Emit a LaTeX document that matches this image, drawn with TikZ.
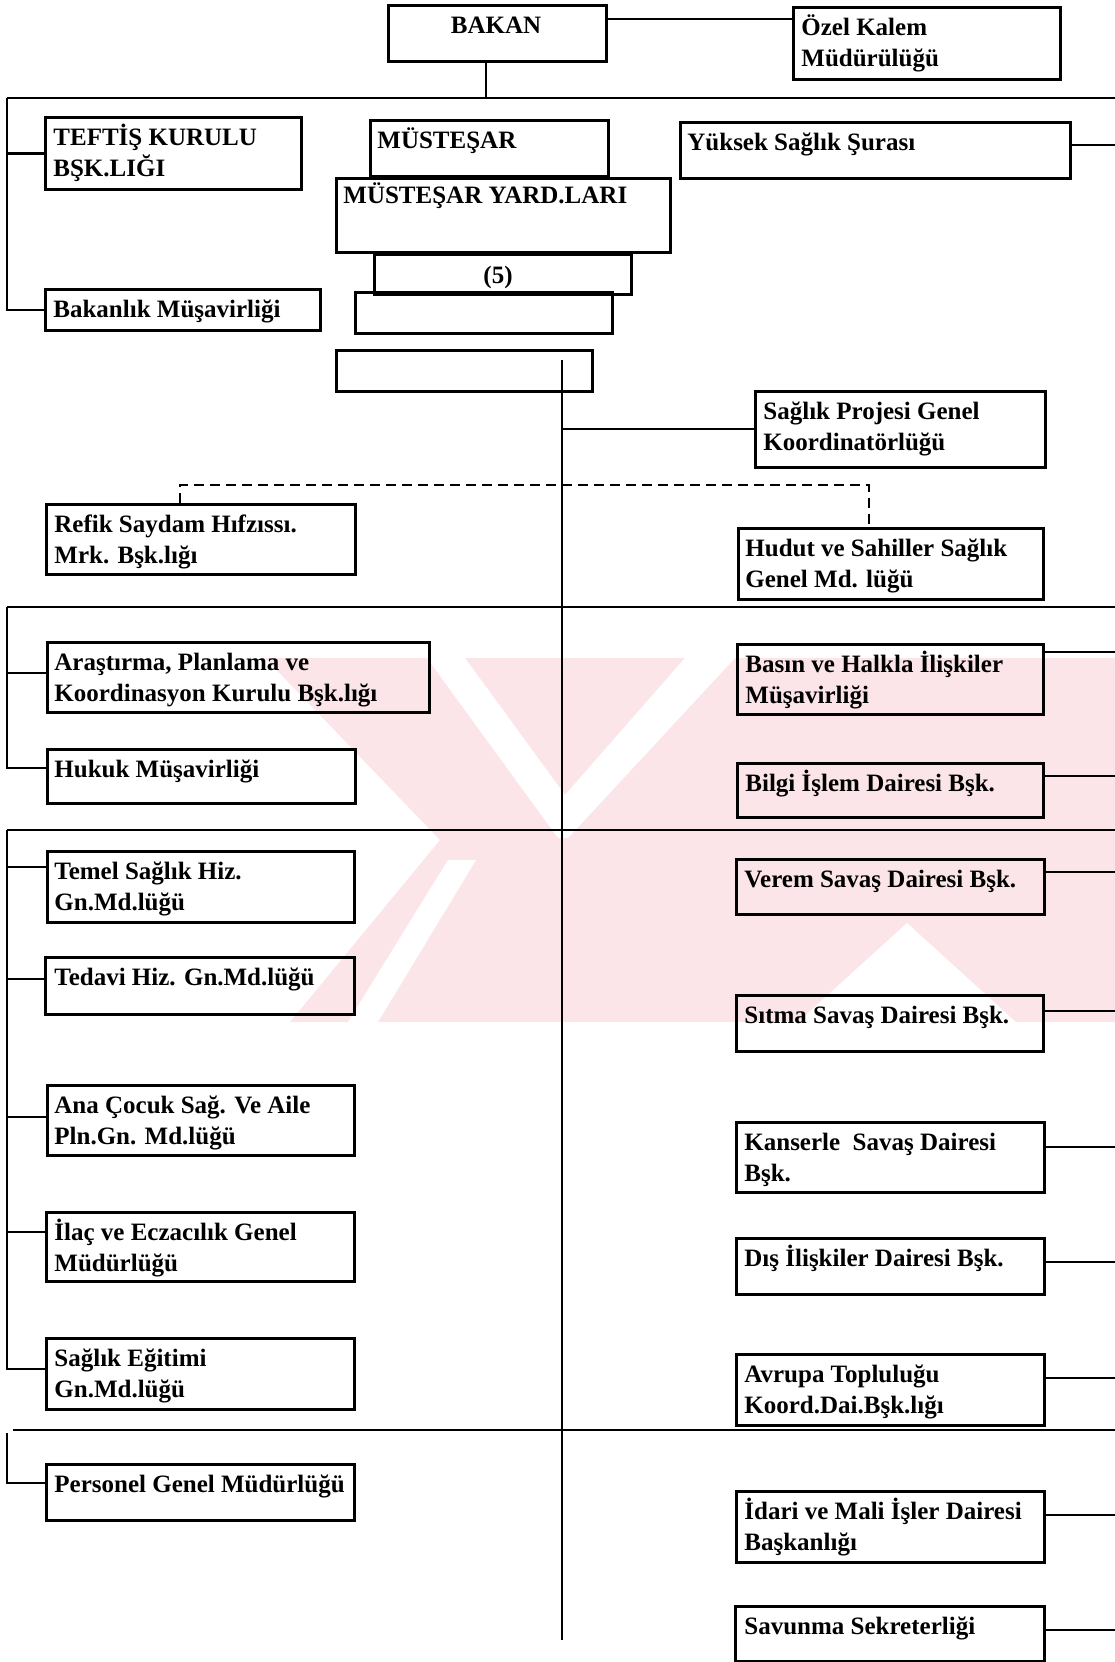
\documentclass[tikz,border=0pt]{standalone}
\usepackage{fontspec}
\setmainfont{Liberation Serif}
\definecolor{wmpink}{RGB}{252,229,233}
\tikzset{
  box/.style={draw, line width=1.3pt, rectangle, inner sep=0pt, anchor=north west},
  txt/.style={anchor=north west, inner sep=0pt, align=left, font=\fontsize{12.5}{15.5}\selectfont\bfseries},
  ctxt/.style={txt, anchor=north},
  conn/.style={line width=1.2pt},
  dconn/.style={line width=1.2pt, dash pattern=on 5pt off 3pt},
  wm/.style={fill=wmpink, draw=none},
  wmcut/.style={fill=white, draw=none}
}
\newcommand\orgbox[5]{\node[box,minimum width={(#4-#2)*0.5pt},minimum height={(#5-#3)*0.5pt}] (#1) at (#2,#3) {};}
\newcommand\orgtxt[4]{\node[txt] (#1) at (#2,#3) {\strut #4};}
\begin{document}
\begin{tikzpicture}[x=0.5pt,y=-0.5pt]
\useasboundingbox (0,0) rectangle (1115,1662);
% watermark (faint pink logo behind the chart)
\fill[wm] (265,658) -- (1115,658) -- (1115,1022) -- (290,1022) -- (440,840) -- cycle;
\fill[wmcut] (427,658) -- (465,658) -- (565,795) -- (685,658) -- (735,658) -- (568,838) -- (558,838) -- cycle;
\fill[wmcut] (448,860) -- (476,860) -- (378,1022) -- (348,1022) -- cycle;
\fill[wmcut] (907,923) -- (1017,1023) -- (797,1023) -- cycle;
% boxes
\orgbox{bakan}{387}{4}{605}{60}
\orgbox{ozel}{792}{6}{1059}{78}
\orgbox{teftis}{44}{116}{300}{188}
\orgbox{mus}{369}{119}{607}{175}
\orgbox{yard}{335}{177}{669}{251}
\orgbox{five}{373}{253}{630}{293}
\orgbox{blanka}{354}{291}{611}{332}
\orgbox{blankb}{335}{349}{591}{390}
\orgbox{bakm}{44}{288}{319}{329}
\orgbox{yuksek}{679}{121}{1069}{177}
\orgbox{spgk}{754}{390}{1044}{466}
\orgbox{refik}{45}{503}{354}{573}
\orgbox{hudut}{737}{527}{1042}{598}
\orgbox{arast}{46}{641}{428}{711}
\orgbox{basin}{736}{643}{1042}{713}
\orgbox{hukuk}{46}{748}{354}{802}
\orgbox{bilgi}{736}{762}{1042}{816}
\orgbox{temel}{46}{850}{353}{921}
\orgbox{verem}{735}{858}{1043}{913}
\orgbox{tedavi}{44}{956}{353}{1013}
\orgbox{sitma}{735}{994}{1042}{1050}
\orgbox{ana}{46}{1084}{353}{1154}
\orgbox{kanser}{735}{1121}{1043}{1191}
\orgbox{ilac}{45}{1211}{353}{1280}
\orgbox{dis}{735}{1237}{1043}{1293}
\orgbox{egitim}{45}{1337}{353}{1408}
\orgbox{avrupa}{735}{1353}{1043}{1424}
\orgbox{personel}{45}{1463}{353}{1519}
\orgbox{idari}{735}{1490}{1043}{1561}
\orgbox{savunma}{734}{1605}{1043}{1660}
% texts
\node[ctxt] (t-bakan) at (496,11.3) {\strut BAKAN};
\orgtxt{t-ozel}{801}{13.3}{Özel Kalem\\Müdürülüğü}
\orgtxt{t-teftis}{53}{123.3}{TEFTİŞ KURULU\\BŞK.LIĞI}
\orgtxt{t-mus}{377}{126.3}{MÜSTEŞAR}
\orgtxt{t-yard}{343}{181.3}{MÜSTEŞAR YARD.LARI}
\node[ctxt] (t-five) at (498,261.3) {\strut (5)};
\orgtxt{t-bakm}{53}{295.3}{Bakanlık Müşavirliği}
\orgtxt{t-yuksek}{687}{128.3}{Yüksek Sağlık Şurası}
\orgtxt{t-spgk}{763}{397.3}{Sağlık Projesi Genel\\Koordinatörlüğü}
\orgtxt{t-refik}{54}{510.3}{Refik Saydam Hıfzıssı.\\Mrk. Bşk.lığı}
\orgtxt{t-hudut}{745}{534.3}{Hudut ve Sahiller Sağlık\\Genel Md. lüğü}
\orgtxt{t-arast}{54}{648.3}{Araştırma, Planlama ve\\Koordinasyon Kurulu Bşk.lığı}
\orgtxt{t-basin}{745}{650.3}{Basın ve Halkla İlişkiler\\Müşavirliği}
\orgtxt{t-hukuk}{54}{755.3}{Hukuk Müşavirliği}
\orgtxt{t-bilgi}{745}{769.3}{Bilgi İşlem Dairesi Bşk.}
\orgtxt{t-temel}{54}{857.3}{Temel Sağlık Hiz.\\Gn.Md.lüğü}
\orgtxt{t-verem}{744}{865.3}{Verem Savaş Dairesi Bşk.}
\orgtxt{t-tedavi}{54}{963.3}{Tedavi Hiz. Gn.Md.lüğü}
\orgtxt{t-sitma}{744}{1001.3}{Sıtma Savaş Dairesi Bşk.}
\orgtxt{t-ana}{54}{1091.3}{Ana Çocuk Sağ. Ve Aile\\Pln.Gn. Md.lüğü}
\orgtxt{t-kanser}{744}{1128.3}{Kanserle~ Savaş Dairesi\\Bşk.}
\orgtxt{t-ilac}{54}{1218.3}{İlaç ve Eczacılık Genel\\Müdürlüğü}
\orgtxt{t-dis}{744}{1244.3}{Dış İlişkiler Dairesi Bşk.}
\orgtxt{t-egitim}{54}{1344.3}{Sağlık Eğitimi\\Gn.Md.lüğü}
\orgtxt{t-avrupa}{744}{1360.3}{Avrupa Topluluğu\\Koord.Dai.Bşk.lığı}
\orgtxt{t-personel}{54}{1470.3}{Personel Genel Müdürlüğü}
\orgtxt{t-idari}{744}{1497.3}{İdari ve Mali İşler Dairesi\\Başkanlığı}
\orgtxt{t-savunma}{744}{1612.3}{Savunma Sekreterliği}
% junction coordinates
\coordinate (jb) at (486,98);
\coordinate (la) at (7,98);
\coordinate (lb) at (1115,98);
\coordinate (ma) at (7,607);
\coordinate (mb) at (1115,607);
\coordinate (na) at (7,830);
\coordinate (nb) at (1115,830);
\coordinate (pa) at (13,1430);
\coordinate (pb) at (1115,1430);
\coordinate (pv) at (7,1433);
\coordinate (re) at (1115,0);
\coordinate (tr0) at (562,360);
\coordinate (tr1) at (562,1640);
\coordinate (da) at (180,485);
\coordinate (db) at (869,485);
% connectors
\draw[conn] (bakan.east |- 0,19) -- (ozel.west |- 0,19);
\draw[conn] (jb |- bakan.south) -- (jb);
\draw[conn] (la) -- (lb);
\draw[conn] (la) -- (la |- 0,310) -- (bakm.west |- 0,310);
\draw[conn] (la |- teftis.west) -- (teftis.west);
\draw[conn] (yuksek.east |- 0,145) -- (re |- 0,145);
\draw[conn] (tr0) -- (tr1);
\draw[conn] (tr0 |- 0,429) -- (spgk.west |- 0,429);
\draw[dconn] (da |- refik.north) -- (da) -- (db) -- (db |- hudut.north);
\draw[conn] (ma) -- (mb);
\draw[conn] (ma) -- (ma |- 0,768) -- (hukuk.west |- 0,768);
\draw[conn] (ma |- 0,673) -- (arast.west |- 0,673);
\draw[conn] (basin.east |- 0,652) -- (re |- 0,652);
\draw[conn] (bilgi.east |- 0,776) -- (re |- 0,776);
\draw[conn] (na) -- (nb);
\draw[conn] (na) -- (na |- 0,1369) -- (egitim.west |- 0,1369);
\draw[conn] (na |- 0,867) -- (temel.west |- 0,867);
\draw[conn] (na |- 0,979) -- (tedavi.west |- 0,979);
\draw[conn] (na |- 0,1117) -- (ana.west |- 0,1117);
\draw[conn] (na |- 0,1232) -- (ilac.west |- 0,1232);
\draw[conn] (verem.east |- 0,872) -- (re |- 0,872);
\draw[conn] (sitma.east |- 0,1011) -- (re |- 0,1011);
\draw[conn] (kanser.east |- 0,1147) -- (re |- 0,1147);
\draw[conn] (dis.east |- 0,1262) -- (re |- 0,1262);
\draw[conn] (avrupa.east |- 0,1378) -- (re |- 0,1378);
\draw[conn] (pa) -- (pb);
\draw[conn] (pv) -- (pv |- 0,1483) -- (personel.west |- 0,1483);
\draw[conn] (idari.east |- 0,1515) -- (re |- 0,1515);
\draw[conn] (savunma.east |- 0,1630) -- (re |- 0,1630);
\end{tikzpicture}
\end{document}
